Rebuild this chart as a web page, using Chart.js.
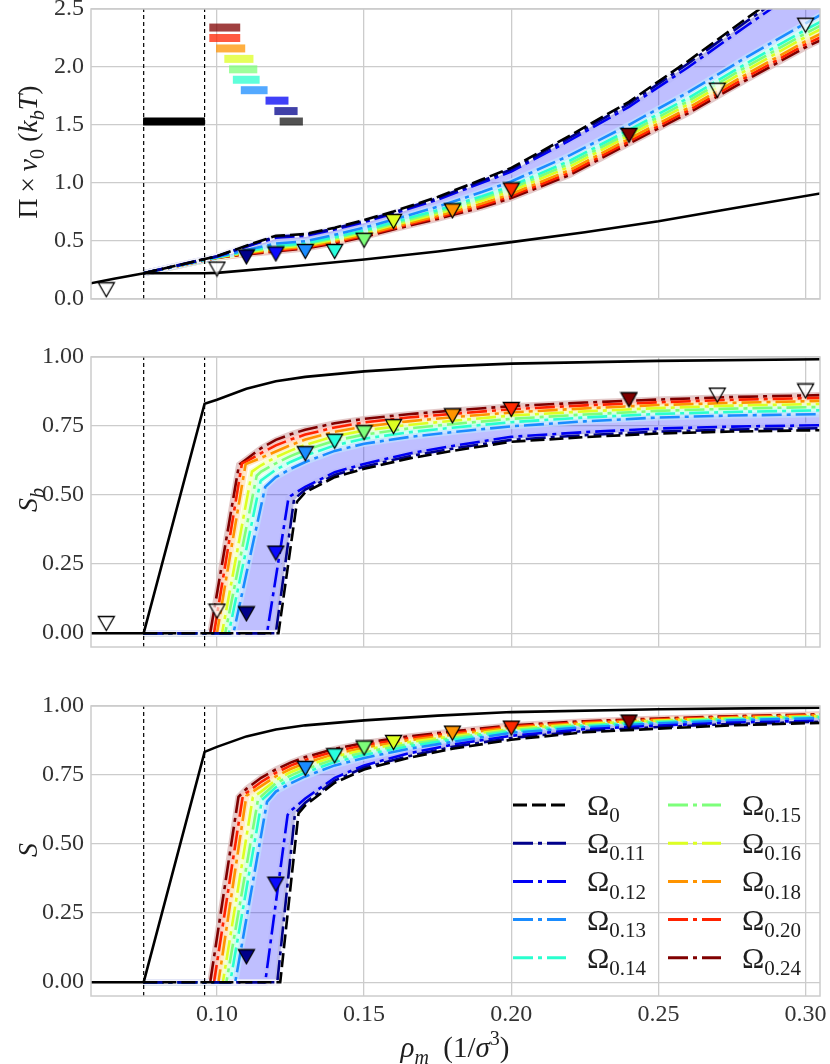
<!DOCTYPE html>
<html>
<head>
<meta charset="utf-8">
<script src="https://cdn.jsdelivr.net/npm/chart.js@4.4.1/dist/chart.umd.min.js"></script>
<style>
  html, body { margin: 0; padding: 0; background: #fff; }
  .panel { position: absolute; left: 0; }
</style>
</head>
<body>
<canvas id="pressureChart" class="panel" width="830" height="310" style="top:0"></canvas>
<canvas id="bulkOrderChart" class="panel" width="830" height="330" style="top:330px"></canvas>
<canvas id="orderChart" class="panel" width="830" height="374" style="top:690px"></canvas>
<script>
// axis ranges and ticks
const rhoMin = 0.0572;
const rhoMax = 0.3049;
const rhoTicks = [0.10, 0.15, 0.20, 0.25, 0.30];
const piTicks = [0.0, 0.5, 1.0, 1.5, 2.0, 2.5];
const orderTicks = [0.00, 0.25, 0.50, 0.75, 1.00];

const omegaLabels = ["0", "0.11", "0.12", "0.13", "0.14", "0.15", "0.16", "0.18", "0.20", "0.24"];
const omegaColors = ["#000000", "#00008b", "#0000f5", "#1a8cff", "#29ffce", "#7dff7a", "#ddff22", "#ff9400", "#ff2200", "#800000"];

// coexistence densities of the reference system
const coexRho = [0.0751, 0.0958];

// ---- osmotic pressure panel ----
const rhoPi = [0.075, 0.10, 0.11, 0.12, 0.13, 0.14, 0.15, 0.16, 0.175, 0.19, 0.20, 0.22, 0.24, 0.26, 0.28, 0.30, 0.305];
const pi0   = [0.222, 0.369, 0.46, 0.545, 0.56, 0.615, 0.68, 0.755, 0.88, 1.03, 1.13, 1.41, 1.70, 2.05, 2.42, 2.78, 2.87];
const pi011 = [0.222, 0.368, 0.456, 0.538, 0.554, 0.608, 0.673, 0.747, 0.87, 1.018, 1.117, 1.393, 1.682, 2.028, 2.394, 2.75, 2.84];
const pi012 = [0.222, 0.367, 0.451, 0.529, 0.545, 0.599, 0.663, 0.736, 0.857, 1.001, 1.099, 1.369, 1.657, 1.996, 2.356, 2.707, 2.793];
const pi013 = [0.222, 0.362, 0.423, 0.478, 0.498, 0.554, 0.615, 0.685, 0.795, 0.922, 1.013, 1.24, 1.502, 1.78, 2.086, 2.377, 2.448];
const pi014 = [0.222, 0.360, 0.413, 0.460, 0.481, 0.534, 0.593, 0.662, 0.767, 0.886, 0.974, 1.194, 1.458, 1.731, 2.033, 2.321, 2.389];
const pi015 = [0.222, 0.359, 0.407, 0.449, 0.472, 0.523, 0.581, 0.649, 0.751, 0.867, 0.953, 1.169, 1.434, 1.704, 2.004, 2.29, 2.356];
const pi016 = [0.222, 0.358, 0.401, 0.439, 0.462, 0.512, 0.569, 0.637, 0.735, 0.847, 0.931, 1.143, 1.410, 1.677, 1.974, 2.259, 2.324];
const pi018 = [0.222, 0.357, 0.395, 0.427, 0.451, 0.499, 0.555, 0.621, 0.716, 0.823, 0.906, 1.113, 1.381, 1.645, 1.939, 2.222, 2.285];
const pi020 = [0.222, 0.356, 0.390, 0.418, 0.443, 0.489, 0.545, 0.610, 0.703, 0.806, 0.887, 1.09, 1.359, 1.622, 1.914, 2.195, 2.256];
const pi024 = [0.222, 0.355, 0.385, 0.41, 0.435, 0.48, 0.535, 0.60, 0.69, 0.79, 0.87, 1.07, 1.34, 1.60, 1.89, 2.17, 2.23];
const piSeries = [pi0, pi011, pi012, pi013, pi014, pi015, pi016, pi018, pi020, pi024];

const refRhoPi = [0.057, 0.065, 0.0752, 0.0958, 0.10, 0.125, 0.15, 0.175, 0.20, 0.225, 0.25, 0.275, 0.305];
const refPi    = [0.135, 0.175, 0.222, 0.222, 0.225, 0.28, 0.34, 0.41, 0.49, 0.575, 0.67, 0.78, 0.91];

// transition intervals drawn as bars (same order as omegaLabels)
const barLo = [0.1213, 0.1195, 0.1165, 0.1081, 0.1054, 0.1041, 0.1025, 0.0997, 0.0974, 0.0974];
const barHi = [0.1292, 0.1274, 0.1243, 0.1172, 0.1145, 0.1137, 0.1124, 0.1096, 0.1079, 0.1079];
const barPi = [1.53, 1.62, 1.71, 1.80, 1.89, 1.98, 2.07, 2.16, 2.25, 2.34];
const refBarRho = [0.0749, 0.0959];
const refBarPi = 1.53;

// ---- order parameter panels ----
const rhoStart = 0.075;
const rhoTail = [0.11, 0.115, 0.12, 0.125, 0.13, 0.14, 0.15, 0.165, 0.18, 0.20, 0.225, 0.25, 0.275, 0.305];

const sbOnset   = [0.1209, 0.1200, 0.117, 0.1056, 0.104, 0.1028, 0.1017, 0.100, 0.099, 0.0977];
const sbKneeRho = [0.1272, 0.1262, 0.1243, 0.1164, 0.1148, 0.1135, 0.1119, 0.1097, 0.1085, 0.1075];
const sbKneeVal = [0.476, 0.485, 0.49, 0.53, 0.55, 0.57, 0.585, 0.61, 0.615, 0.61];
const sb0   = [null, null, null, null, 0.51, 0.565, 0.595, 0.632, 0.66, 0.693, 0.71, 0.723, 0.73, 0.735];
const sb011 = [null, null, null, null, 0.52, 0.573, 0.603, 0.64, 0.668, 0.70, 0.717, 0.73, 0.737, 0.742];
const sb012 = [null, null, null, 0.497, 0.53, 0.583, 0.613, 0.65, 0.678, 0.711, 0.728, 0.741, 0.748, 0.753];
const sb013 = [null, null, 0.565, 0.595, 0.62, 0.66, 0.686, 0.71, 0.728, 0.749, 0.767, 0.781, 0.788, 0.793];
const sb014 = [null, 0.553, 0.592, 0.62, 0.643, 0.68, 0.704, 0.727, 0.744, 0.764, 0.781, 0.794, 0.801, 0.807];
const sb015 = [null, 0.585, 0.615, 0.641, 0.663, 0.697, 0.719, 0.741, 0.757, 0.776, 0.792, 0.805, 0.813, 0.819];
const sb016 = [null, 0.608, 0.637, 0.661, 0.682, 0.713, 0.734, 0.754, 0.769, 0.788, 0.803, 0.815, 0.824, 0.830];
const sb018 = [0.613, 0.635, 0.658, 0.681, 0.701, 0.729, 0.748, 0.767, 0.782, 0.799, 0.814, 0.826, 0.834, 0.841];
const sb020 = [0.622, 0.652, 0.680, 0.701, 0.719, 0.745, 0.763, 0.781, 0.794, 0.811, 0.825, 0.836, 0.845, 0.852];
const sb024 = [0.63, 0.67, 0.70, 0.72, 0.737, 0.76, 0.776, 0.793, 0.806, 0.822, 0.835, 0.846, 0.855, 0.862];
const sbSeries = [sb0, sb011, sb012, sb013, sb014, sb015, sb016, sb018, sb020, sb024];

const sOnset   = [0.1215, 0.1205, 0.1164, 0.1062, 0.1045, 0.1032, 0.102, 0.1005, 0.099, 0.0977];
const sKneeRho = [0.1277, 0.1265, 0.124, 0.117, 0.1153, 0.114, 0.1122, 0.110, 0.1088, 0.1073];
const sKneeVal = [0.611, 0.61, 0.605, 0.653, 0.66, 0.665, 0.67, 0.675, 0.675, 0.671];
const s0   = [null, null, null, null, 0.64, 0.722, 0.77, 0.812, 0.845, 0.878, 0.905, 0.918, 0.93, 0.939];
const s011 = [null, null, null, null, 0.65, 0.73, 0.777, 0.818, 0.852, 0.884, 0.91, 0.924, 0.935, 0.943];
const s012 = [null, null, null, 0.62, 0.665, 0.74, 0.785, 0.828, 0.86, 0.892, 0.916, 0.929, 0.94, 0.947];
const s013 = [null, null, 0.69, 0.72, 0.745, 0.785, 0.812, 0.845, 0.87, 0.903, 0.923, 0.937, 0.948, 0.956];
const s014 = [null, null, 0.706, 0.735, 0.759, 0.797, 0.823, 0.854, 0.878, 0.908, 0.927, 0.941, 0.951, 0.959];
const s015 = [null, 0.672, 0.72, 0.748, 0.771, 0.807, 0.832, 0.862, 0.884, 0.913, 0.931, 0.944, 0.954, 0.961];
const s016 = [null, 0.69, 0.732, 0.76, 0.782, 0.817, 0.841, 0.869, 0.89, 0.917, 0.935, 0.947, 0.956, 0.963];
const s018 = [null, 0.71, 0.745, 0.772, 0.793, 0.826, 0.849, 0.876, 0.896, 0.922, 0.938, 0.949, 0.958, 0.966];
const s020 = [0.685, 0.725, 0.758, 0.784, 0.805, 0.836, 0.858, 0.883, 0.902, 0.926, 0.942, 0.952, 0.961, 0.968];
const s024 = [0.70, 0.74, 0.77, 0.795, 0.815, 0.845, 0.866, 0.89, 0.908, 0.93, 0.945, 0.955, 0.963, 0.970];
const sSeries = [s0, s011, s012, s013, s014, s015, s016, s018, s020, s024];

const refRhoS = [0.057, 0.0751, 0.0958, 0.10, 0.11, 0.12, 0.13, 0.15, 0.175, 0.20, 0.25, 0.305];
const refSb   = [0, 0, 0.831, 0.845, 0.885, 0.912, 0.928, 0.948, 0.965, 0.976, 0.986, 0.992];
const refS    = [0, 0, 0.834, 0.852, 0.89, 0.915, 0.93, 0.948, 0.965, 0.978, 0.988, 0.994];

// simulation points
const markerRho = [0.0624, 0.10, 0.11, 0.12, 0.13, 0.14, 0.15, 0.16, 0.18, 0.20, 0.24, 0.27, 0.30];
const markerFill = ["rgba(255,255,255,0.6)", "rgba(255,255,255,0.6)", "#00008b", "#0a0aff", "#1a8cff", "#29ffdf", "#7dff7a", "#ddff22", "#ff9400", "#ff2a00", "#800000", "rgba(255,255,255,0.6)", "rgba(255,255,255,0.6)"];
const markerPi = [0.08, 0.258, 0.363, 0.388, 0.41, 0.41, 0.506, 0.669, 0.76, 0.94, 1.41, 1.80, 2.36];
const markerSb = [0.035, 0.08, 0.07, 0.29, 0.65, 0.695, 0.726, 0.748, 0.787, 0.81, 0.845, 0.862, 0.877];
const markerS  = [null, null, 0.092, 0.355, 0.774, 0.82, 0.848, 0.868, 0.902, 0.92, 0.942, null, null];

const gridColor = "#cccccc";
const tickColor = "#333333";
const textColor = "#1e1e1e";
const serif = "'Liberation Serif', 'DejaVu Serif', serif";
const dashOmega0 = [14, 5];
const dashOmega = [20, 5, 4, 5];

// pale version of a colour, used for the glow behind each curve
const haloColor = (hex) => {
  if (hex === "#000000") return "rgba(255,255,255,0.8)";
  const n = parseInt(hex.slice(1), 16);
  const mix = (c) => Math.round(c + (255 - c) * 0.72);
  return `rgba(${mix((n >> 16) & 255)},${mix((n >> 8) & 255)},${mix(n & 255)},0.75)`;
};

const toRgba = (hex, alpha) => {
  const n = parseInt(hex.slice(1), 16);
  return `rgba(${(n >> 16) & 255},${(n >> 8) & 255},${n & 255},${alpha})`;
};

const pointsFrom = (xs, ys) => xs.map((x, i) => ({ x, y: ys[i] }));

const orderCurve = (onset, kneeRho, kneeVal, tail) => [
  { x: rhoStart, y: 0 },
  { x: onset, y: 0 },
  { x: kneeRho, y: kneeVal },
  ...rhoTail
    .map((x, i) => ({ x, y: tail[i] }))
    .filter((p) => p.y !== null && p.x > kneeRho),
];

const markerImage = (fill) => {
  const c = document.createElement("canvas");
  c.width = 19;
  c.height = 17;
  const g = c.getContext("2d");
  g.beginPath();
  g.moveTo(1.5, 1.5);
  g.lineTo(17.5, 1.5);
  g.lineTo(9.5, 15.5);
  g.closePath();
  g.fillStyle = fill;
  g.fill();
  g.lineWidth = 1.3;
  g.strokeStyle = "#000";
  g.stroke();
  return c;
};

const buildDatasets = (curves, refPoints, yLo, yHi, markerVals) => {
  const sets = [];
  sets.push({
    data: pointsFrom(markerRho, markerVals),
    showLine: false,
    pointStyle: markerFill.map(markerImage),
    pointRadius: 8,
    order: 0,
    clip: false,
  });
  sets.push({ data: refPoints, borderColor: "#000", borderWidth: 2.6, order: 1, clip: 0 });
  coexRho.forEach((x) => {
    sets.push({
      data: [{ x, y: yLo }, { x, y: yHi }],
      borderColor: "#000",
      borderWidth: 1.2,
      borderDash: [4, 3],
      order: 1,
      clip: 0,
    });
  });
  curves.forEach((pts, i) => {
    sets.push({
      data: pts,
      borderColor: omegaColors[i],
      borderWidth: 2.6,
      borderDash: i === 0 ? dashOmega0 : dashOmega,
      order: 2 + i,
      clip: 0,
      fill: i === 0 ? "+3" : false,
      backgroundColor: "rgba(0,0,255,0.25)",
    });
  });
  curves.forEach((pts, i) => {
    sets.push({ data: pts, borderColor: haloColor(omegaColors[i]), borderWidth: 6, order: 20, clip: 0 });
  });
  return sets;
};

const mathRun = (ctx, parts, size) =>
  parts.map((p) => {
    const small = p.sub || p.sup;
    const font = `${p.it ? "italic " : ""}${small ? Math.round(size * 0.7) : size}px ${serif}`;
    ctx.font = font;
    return { t: p.t, font, w: ctx.measureText(p.t).width, dy: p.sub ? size * 0.24 : p.sup ? -size * 0.42 : 0 };
  });

const drawMath = (ctx, parts, size, x, y, align) => {
  const run = mathRun(ctx, parts, size);
  const total = run.reduce((s, r) => s + r.w, 0);
  let cx = align === "center" ? x - total / 2 : x;
  ctx.textAlign = "left";
  ctx.textBaseline = "alphabetic";
  run.forEach((r) => {
    ctx.font = r.font;
    ctx.fillText(r.t, cx, y + r.dy);
    cx += r.w;
  });
};

const drawLegend = (ctx) => {
  const colLine = [513, 668];
  const colText = [587, 742];
  omegaLabels.forEach((label, i) => {
    const col = Math.floor(i / 5);
    const y = 115 + (i % 5) * 38.2;
    ctx.save();
    ctx.strokeStyle = omegaColors[i];
    ctx.lineWidth = 3;
    ctx.setLineDash(i === 0 ? dashOmega0 : dashOmega);
    ctx.beginPath();
    ctx.moveTo(colLine[col], y);
    ctx.lineTo(colLine[col] + 53, y);
    ctx.stroke();
    ctx.restore();
    ctx.fillStyle = textColor;
    drawMath(ctx, [{ t: "Ω" }, { t: label, sub: true }], 30, colText[col], y + 10, "left");
  });
};

const panelDecor = (decor) => ({
  id: "panelDecor",
  afterDatasetsDraw(chart) {
    const { ctx, chartArea: a } = chart;
    ctx.save();
    ctx.strokeStyle = gridColor;
    ctx.lineWidth = 1.5;
    ctx.strokeRect(a.left, a.top, a.right - a.left, a.bottom - a.top);
    ctx.fillStyle = textColor;
    ctx.translate(37, decor.titleY);
    ctx.rotate(-Math.PI / 2);
    drawMath(ctx, decor.yTitle, 28, 0, 0, "center");
    ctx.restore();
    ctx.save();
    ctx.fillStyle = textColor;
    if (decor.xTitle) drawMath(ctx, decor.xTitle, 29, 455, decor.xTitleY, "center");
    if (decor.legend) drawLegend(ctx);
    ctx.restore();
  },
});

// keep the plot box exactly where the padding puts it
const noLabelPadding = (s) => {
  s.paddingTop = 0;
  s.paddingBottom = 0;
  s.paddingLeft = 0;
  s.paddingRight = 0;
};

const makePanel = (canvasId, cfg) =>
  new Chart(document.getElementById(canvasId), {
    type: "line",
    data: { datasets: cfg.datasets },
    options: {
      responsive: false,
      animation: false,
      events: [],
      layout: { padding: { top: cfg.padTop, right: 10, left: 0, bottom: 0 } },
      elements: { point: { radius: 0 }, line: { tension: 0 } },
      plugins: {
        legend: { display: false },
        tooltip: { enabled: false },
        filler: { drawTime: "beforeDatasetsDraw" },
      },
      scales: {
        x: {
          type: "linear",
          min: rhoMin,
          max: rhoMax,
          afterBuildTicks: (s) => { s.ticks = rhoTicks.map((v) => ({ value: v })); },
          afterFit: (s) => { s.height = cfg.xHeight; noLabelPadding(s); },
          grid: { color: gridColor, lineWidth: 1.3, drawTicks: false },
          border: { display: false },
          ticks: {
            display: cfg.showX,
            autoSkip: false,
            maxRotation: 0,
            padding: 4,
            color: tickColor,
            font: { family: serif, size: 24 },
            callback: (v) => v.toFixed(2),
          },
        },
        y: {
          min: cfg.yMin,
          max: cfg.yMax,
          afterBuildTicks: (s) => { s.ticks = cfg.yTicks.map((v) => ({ value: v })); },
          afterFit: (s) => { s.width = 91; noLabelPadding(s); },
          grid: { color: gridColor, lineWidth: 1.3, drawTicks: false },
          border: { display: false },
          ticks: {
            autoSkip: false,
            padding: 7,
            color: tickColor,
            font: { family: serif, size: 24 },
            callback: (v) => v.toFixed(cfg.digits),
          },
        },
      },
    },
    plugins: [panelDecor(cfg.decor)],
  });

// pressure panel
const piCurves = piSeries.map((ys) => pointsFrom(rhoPi, ys));
const pressureSets = buildDatasets(piCurves, pointsFrom(refRhoPi, refPi), 0, 2.5, markerPi);
barLo.forEach((lo, i) => {
  pressureSets.push({
    data: [{ x: lo, y: barPi[i] }, { x: barHi[i], y: barPi[i] }],
    borderColor: i === 0 ? "rgba(0,0,0,0.68)" : toRgba(omegaColors[i], 0.75),
    borderWidth: 8,
    borderCapStyle: "butt",
    order: 5,
  });
});
pressureSets.push({
  data: refBarRho.map((x) => ({ x, y: refBarPi })),
  borderColor: "#000",
  borderWidth: 8,
  borderCapStyle: "butt",
  order: 5,
});

makePanel("pressureChart", {
  datasets: pressureSets,
  padTop: 8,
  xHeight: 11,
  showX: false,
  yMin: 0,
  yMax: 2.5,
  yTicks: piTicks,
  digits: 1,
  decor: {
    titleY: 152,
    yTitle: [
      { t: "Π" }, { t: "\u2009×\u2009" }, { t: "v", it: true }, { t: "0", sub: true },
      { t: " (" }, { t: "k", it: true }, { t: "b", it: true, sub: true }, { t: "T", it: true }, { t: ")" },
    ],
  },
});

// bulk order parameter panel
const sbCurves = sbSeries.map((tail, i) => orderCurve(sbOnset[i], sbKneeRho[i], sbKneeVal[i], tail));
makePanel("bulkOrderChart", {
  datasets: buildDatasets(sbCurves, pointsFrom(refRhoS, refSb), -0.05, 1.0, markerSb),
  padTop: 27,
  xHeight: 13,
  showX: false,
  yMin: -0.05,
  yMax: 1.0,
  yTicks: orderTicks,
  digits: 2,
  decor: { titleY: 170, yTitle: [{ t: "S", it: true }, { t: "b", it: true, sub: true }] },
});

// order parameter panel
const sCurves = sSeries.map((tail, i) => orderCurve(sOnset[i], sKneeRho[i], sKneeVal[i], tail));
makePanel("orderChart", {
  datasets: buildDatasets(sCurves, pointsFrom(refRhoS, refS), -0.05, 1.0, markerS),
  padTop: 16,
  xHeight: 68,
  showX: true,
  yMin: -0.05,
  yMax: 1.0,
  yTicks: orderTicks,
  digits: 2,
  decor: {
    titleY: 160,
    yTitle: [{ t: "S", it: true }],
    xTitle: [
      { t: "ρ", it: true }, { t: "m", it: true, sub: true }, { t: "  (1/" },
      { t: "σ", it: true }, { t: "3", sup: true }, { t: ")" },
    ],
    xTitleY: 367,
    legend: true,
  },
});
</script>
</body>
</html>
